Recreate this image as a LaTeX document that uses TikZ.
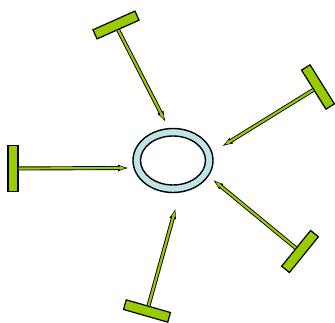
\documentclass[tikz,border=0pt]{standalone}
\usepackage{xcolor}
\usepackage{tikz}
\usetikzlibrary{arrows.meta, positioning, shapes.geometric}

\definecolor{barGreen}{RGB}{153,204,0}
\definecolor{ringBlue}{RGB}{192,227,232}

\begin{document}
\begin{tikzpicture}[
      x=1pt, y=1pt,
      bar/.style={rectangle, draw, line width=1.2pt, fill=barGreen, minimum width=46pt, minimum height=10pt, inner sep=0pt},
      ringout/.style={ellipse, draw, line width=1.4pt, fill=ringBlue, minimum width=80pt, minimum height=64pt, inner sep=0pt},
      ringin/.style={ellipse, draw, line width=1.4pt, fill=white, minimum width=65pt, minimum height=49pt, inner sep=0pt},
      shaftout/.style={line width=4pt, black, -{Latex[length=12pt,width=7pt]}},
      shaftin/.style={line width=2.2pt, barGreen, shorten >=2pt, -{Latex[length=8pt,width=3.8pt]}}
    ]
      \useasboundingbox (0,0) rectangle (335,323);

      % ring
      \node[ringout] (ring) at (173,162.5) {};
      \node[ringin] (hole) at (ring.center) {};

      % bars
      \node[bar, rotate=24] (bartop) at (116,298) {};
      \node[bar, rotate=302] (barright) at (318,236) {};
      \node[bar, rotate=90] (barleft) at (13,154.5) {};
      \node[bar, rotate=164] (barbottom) at (147,12) {};
      \node[bar, rotate=231] (barlow) at (300,71.5) {};

      % arrow tips near the ring
      \coordinate (tiptop) at (166,200);
      \coordinate (tipright) at (221,176);
      \coordinate (tipleft) at (130,155);
      \coordinate (tipbottom) at (176,116);
      \coordinate (tiplow) at (212,144);

      \foreach \s in {top, right, left, bottom, low} {
        \draw[shaftout] (bar\s.south) -- (tip\s);
        \draw[shaftin] (bar\s.south) -- (tip\s);
      }
    \end{tikzpicture}
\end{document}
